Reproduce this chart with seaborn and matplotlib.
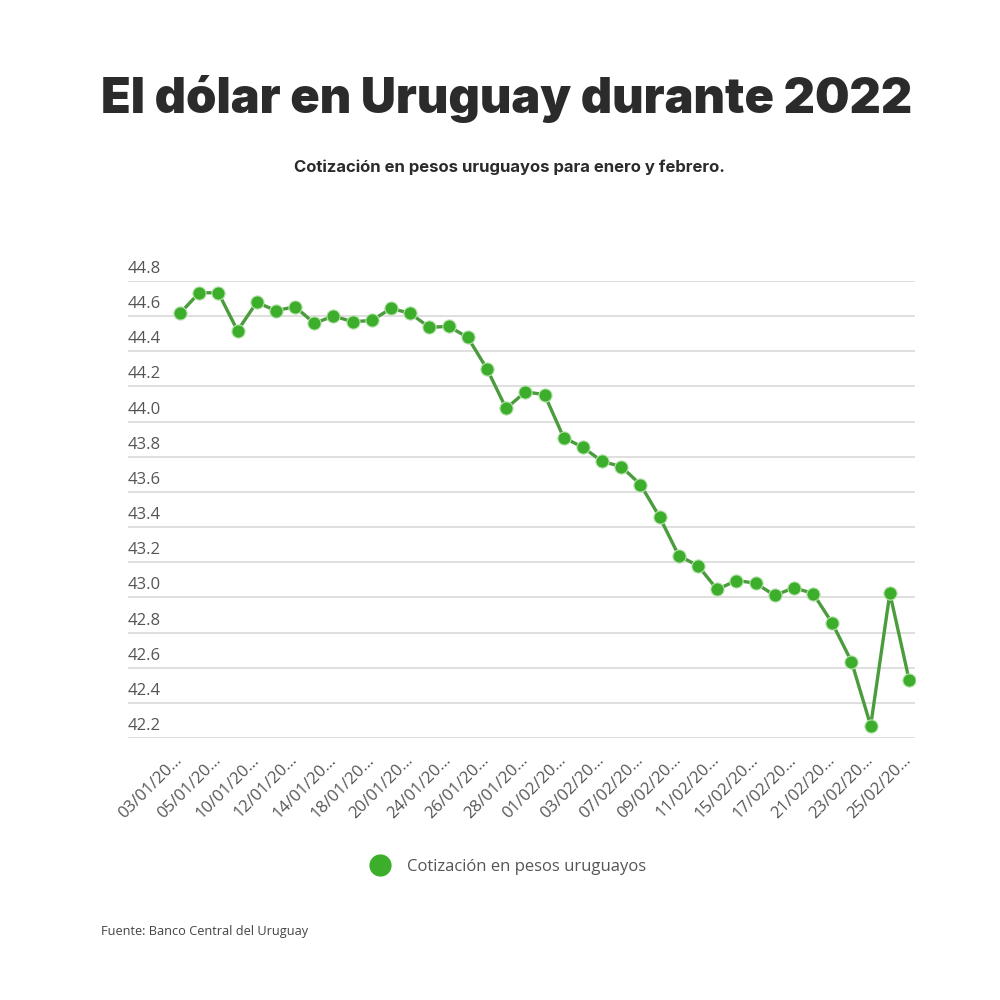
import pandas as pd
import matplotlib.pyplot as plt
import matplotlib.transforms as mtransforms
import seaborn as sns
from matplotlib.lines import Line2D

# -----------------------------
# Data
# -----------------------------
dates = [
    "03/01/2022", "04/01/2022", "05/01/2022", "07/01/2022", "10/01/2022",
    "11/01/2022", "12/01/2022", "13/01/2022", "14/01/2022", "17/01/2022",
    "18/01/2022", "19/01/2022", "20/01/2022", "21/01/2022", "24/01/2022",
    "25/01/2022", "26/01/2022", "27/01/2022", "28/01/2022", "31/01/2022",
    "01/02/2022", "02/02/2022", "03/02/2022", "04/02/2022", "07/02/2022",
    "08/02/2022", "09/02/2022", "10/02/2022", "11/02/2022", "14/02/2022",
    "15/02/2022", "16/02/2022", "17/02/2022", "18/02/2022", "21/02/2022",
    "22/02/2022", "23/02/2022", "24/02/2022", "25/02/2022",
]

cotizacion = [
    44.616, 44.733, 44.733, 44.517, 44.679, 44.631, 44.654, 44.559, 44.601,
    44.568, 44.576, 44.644, 44.616, 44.536, 44.542, 44.479, 44.300, 44.075,
    44.169, 44.154, 43.909, 43.854, 43.774, 43.744, 43.642, 43.457, 43.237,
    43.180, 43.045, 43.096, 43.081, 43.011, 43.055, 43.022, 42.853, 42.635,
    42.270, 43.024, 42.532,
]

y_ticks = [42.2, 42.4, 42.6, 42.8, 43.0, 43.2, 43.4, 43.6, 43.8,
           44.0, 44.2, 44.4, 44.6, 44.8]

df = pd.DataFrame({"fecha": dates, "valor": cotizacion})
df["pos"] = range(len(df))

# -----------------------------
# Style
# -----------------------------
sns.set_theme(style="white")
plt.rcParams["font.family"] = ["Open Sans", "DejaVu Sans"]

marker_green = "#3dae2b"
line_green = "#4b9c3c"
gray_text = "#555555"

fig = plt.figure(figsize=(10, 10), dpi=100)
ax = fig.add_axes([0.128, 0.262, 0.787, 0.457])

sns.lineplot(
    data=df, x="pos", y="valor", ax=ax,
    color=line_green, linewidth=2.4,
    marker="o", markersize=9.5,
    markerfacecolor=marker_green, markeredgecolor="#b9e3b0",
    markeredgewidth=0.8, legend=False,
)

ax.set_xlim(-2.71, 38.31)
ax.set_ylim(42.2, 44.8)

# y axis: labels sit on top of their gridlines, inside the plot
ax.set_yticks(y_ticks)
ax.set_yticklabels([f"{v:.1f}" for v in y_ticks])
ax.tick_params(axis="y", length=0, pad=0, labelsize=12, labelcolor=gray_text)
offset = mtransforms.ScaledTranslation(0, 4 / 100, fig.dpi_scale_trans)
for lab in ax.get_yticklabels():
    lab.set_horizontalalignment("left")
    lab.set_verticalalignment("bottom")
    lab.set_transform(lab.get_transform() + offset)

# x axis: every other date, truncated like the original
tick_pos = df["pos"][::2].tolist()
tick_lab = [d[:8] + "…" for d in df["fecha"][::2]]
ax.set_xticks(tick_pos)
ax.set_xticklabels(tick_lab, rotation=45, ha="right", va="center",
                   rotation_mode="anchor")
ax.tick_params(axis="x", length=0, pad=14, labelsize=12, labelcolor=gray_text)

ax.set_xlabel("")
ax.set_ylabel("")
ax.grid(axis="y", color="#d9d9d9", linewidth=1.2)
ax.grid(axis="x", visible=False)
ax.set_axisbelow(True)
for s in ax.spines.values():
    s.set_visible(False)

# -----------------------------
# Titles, legend, source
# -----------------------------
fig.text(0.507, 0.901, "El dólar en Uruguay durante 2022",
         ha="center", va="center", fontsize=35, fontweight="black",
         family=["Inter", "DejaVu Sans"], color="#2b2b2b")
fig.text(0.509, 0.833, "Cotización en pesos uruguayos para enero y febrero.",
         ha="center", va="center", fontsize=12, fontweight="bold",
         family=["Inter", "DejaVu Sans"], color="#2b2b2b")

handle = Line2D([], [], linestyle="none", marker="o", markersize=15,
                markerfacecolor=marker_green, markeredgecolor=marker_green)
fig.legend([handle], ["Cotización en pesos uruguayos"],
           loc="center", bbox_to_anchor=(0.505, 0.133), frameon=False,
           fontsize=12, labelcolor=gray_text, handletextpad=0.6)

fig.text(0.101, 0.068, "Fuente: Banco Central del Uruguay",
         ha="left", va="center", fontsize=9.2, color="#444444")

plt.savefig("out.png", dpi=100, facecolor="white")
